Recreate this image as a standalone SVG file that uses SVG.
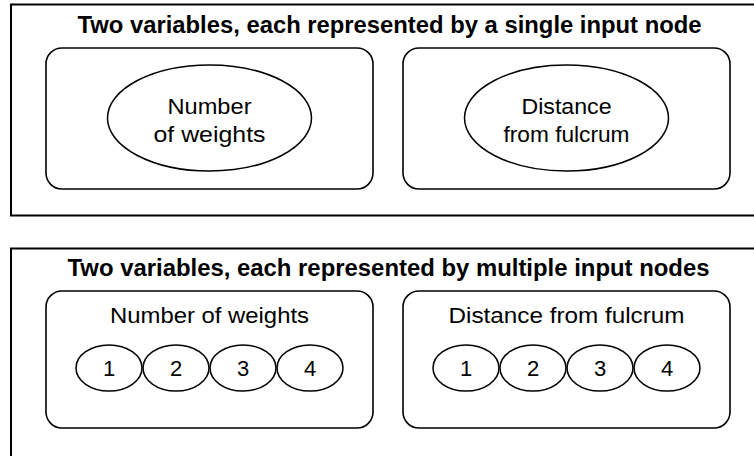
<svg xmlns="http://www.w3.org/2000/svg" width="754" height="456" viewBox="0 0 754 456">
  <style>
    .frame { fill: none; stroke: #000; stroke-width: 2; }
    .group { fill: #fff; stroke: #000; stroke-width: 1.6; }
    .node { fill: #fff; stroke: #000; stroke-width: 1.5; }
    .title { font-family: "Liberation Sans", Arial, sans-serif; font-weight: bold; font-size: 23px; text-anchor: middle; fill: #000; }
    .label { font-family: "Liberation Sans", Arial, sans-serif; font-size: 22px; text-anchor: middle; fill: #000; }
  </style>
  <rect width="754" height="456" fill="#fff"/>

  <!-- Panel 1: one input node per variable -->
  <g id="panel-single">
    <rect class="frame" x="11" y="4.5" width="760" height="211"/>
    <text class="title" x="389.5" y="33" textLength="624" lengthAdjust="spacingAndGlyphs">Two variables, each represented by a single input node</text>
  </g>
  <g id="single-weights">
    <rect class="group" x="46" y="48" width="327" height="141" rx="16"/>
    <ellipse class="node" cx="209.5" cy="118" rx="102" ry="53"/>
    <text class="label" x="209.5" y="114" textLength="84" lengthAdjust="spacingAndGlyphs">Number</text>
    <text class="label" x="209.5" y="142" textLength="112" lengthAdjust="spacingAndGlyphs">of weights</text>
  </g>
  <g id="single-distance">
    <rect class="group" x="403" y="48" width="327" height="141" rx="16"/>
    <ellipse class="node" cx="566.5" cy="118" rx="102" ry="53"/>
    <text class="label" x="566.5" y="114" textLength="90" lengthAdjust="spacingAndGlyphs">Distance</text>
    <text class="label" x="566.5" y="142" textLength="126" lengthAdjust="spacingAndGlyphs">from fulcrum</text>
  </g>

  <!-- Panel 2: several input nodes per variable -->
  <g id="panel-multiple">
    <rect class="frame" x="11" y="248.5" width="760" height="220"/>
    <text class="title" x="388.5" y="276" textLength="642" lengthAdjust="spacingAndGlyphs">Two variables, each represented by multiple input nodes</text>
  </g>
  <g id="multi-weights">
    <rect class="group" x="46" y="291" width="327" height="137" rx="16"/>
    <text class="label" x="209.5" y="323" textLength="199" lengthAdjust="spacingAndGlyphs">Number of weights</text>
    <g id="w1"><ellipse class="node" cx="109" cy="368" rx="33" ry="23"/><text class="label" x="109" y="376">1</text></g>
    <g id="w2"><ellipse class="node" cx="176" cy="368" rx="33" ry="23"/><text class="label" x="176" y="376">2</text></g>
    <g id="w3"><ellipse class="node" cx="243" cy="368" rx="33" ry="23"/><text class="label" x="243" y="376">3</text></g>
    <g id="w4"><ellipse class="node" cx="310" cy="368" rx="33" ry="23"/><text class="label" x="310" y="376">4</text></g>
  </g>
  <g id="multi-distance">
    <rect class="group" x="403" y="291" width="327" height="137" rx="16"/>
    <text class="label" x="566.5" y="323" textLength="236" lengthAdjust="spacingAndGlyphs">Distance from fulcrum</text>
    <g id="d1"><ellipse class="node" cx="466" cy="368" rx="33" ry="23"/><text class="label" x="466" y="376">1</text></g>
    <g id="d2"><ellipse class="node" cx="533" cy="368" rx="33" ry="23"/><text class="label" x="533" y="376">2</text></g>
    <g id="d3"><ellipse class="node" cx="600" cy="368" rx="33" ry="23"/><text class="label" x="600" y="376">3</text></g>
    <g id="d4"><ellipse class="node" cx="667" cy="368" rx="33" ry="23"/><text class="label" x="667" y="376">4</text></g>
  </g>

  <!-- no connectors between nodes -->
  <g id="connectors"/>
</svg>
